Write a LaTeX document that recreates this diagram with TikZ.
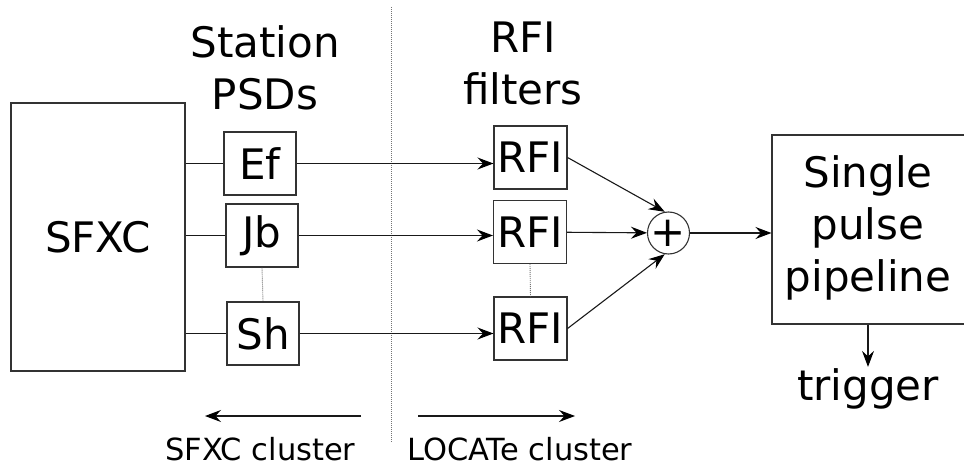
\documentclass[tikz,border=0pt]{standalone}
\usepackage{fontspec}
\setmainfont{DejaVu Sans}
\usetikzlibrary{arrows.meta}
\begin{document}
\begin{tikzpicture}[x=1pt,y=-1pt,
  big/.style={font=\fontsize{42pt}{52pt}\selectfont},
  small/.style={font=\fontsize{30.5pt}{36pt}\selectfont},
  box/.style={big, draw=black!80, line width=1.1pt, inner sep=0pt},
  psd/.style={box, minimum width=72pt, minimum height=63pt},
  rfibox/.style={box, minimum width=73pt, minimum height=63pt},
  title/.style={big, align=center, inner sep=0pt, anchor=base},
  wire/.style={draw=black!90, line width=1.1pt},
  arr/.style={wire, -{Stealth[length=16pt, width=12pt, inset=5.5pt, black]}},
  dots/.style={draw=black!55, line width=0.9pt, dash pattern=on 1pt off 1pt}
]
\useasboundingbox (0,0) rectangle (964,468);

% titles (base = baseline of the last line)
\node[title] (station) at (265,110) {Station\\PSDs};
\node[title] (filters) at (523,105) {RFI\\filters};

% blocks
\node[box, minimum width=174pt, minimum height=268pt] (sfxc) at (98,237) {SFXC};
\node[psd] (ef) at (260,163.5) {Ef};
\node[psd] (jb) at (262,235.5) {Jb};
\node[psd] (sh) at (263,333.5) {Sh};
\node[rfibox] (rfi1) at (530.5,157.5) {RFI};
\node[rfibox] (rfi2) at (530,232) {RFI};
\node[rfibox] (rfi3) at (530.5,328.5) {RFI};
\node[box, circle, minimum size=42pt] (plus) at (668.5,233) {\makebox[0pt]{+}};
\node[box, minimum width=198pt, minimum height=189pt] (pipe) at (871,229.5)
  {\hspace*{-6pt}\raisebox{3pt}{\begin{tabular}{@{}c@{}}Single\\pulse\\pipeline\end{tabular}}};
\node[big, inner sep=1pt, anchor=base] (trig) at (868,400) {trigger};

% separator
\coordinate (septop) at (391,7);
\coordinate (sepbot) at (391,442);
\draw[dots] (septop) -- (sepbot);

% connectors
\draw[wire] (ef.west -| sfxc.east) -- (ef.west);
\draw[wire] (jb.west -| sfxc.east) -- (jb.west);
\draw[wire] (sh.west -| sfxc.east) -- (sh.west);
\draw[dots] (jb.south) -- (sh.north);
\draw[dots] (rfi2.south) -- (rfi3.north);
\draw[arr] (ef.east) -- (ef.east -| rfi1.west);
\draw[arr] (jb.east) -- (jb.east -| rfi2.west);
\draw[arr] (sh.east) -- (sh.east -| rfi3.west);
\draw[arr] (rfi1.east) -- (plus.100);
\draw[arr] (rfi2) -- (plus);
\draw[arr] (rfi3.east) -- (plus.260);
\draw[arr] (plus.east) -- (plus.east -| pipe.west);
\draw[arr] (trig.north |- pipe.south) -- (trig.north);

% cluster arrows
\coordinate (la1) at (361,416);
\coordinate (la2) at (205,416);
\coordinate (ra1) at (418,416);
\coordinate (ra2) at (575,416);
\draw[arr] (la1) -- (la2);
\draw[arr] (ra1) -- (ra2);
\node[small, inner sep=0pt, anchor=base west] (sfxcl) at (165,460) {SFXC cluster};
\node[small, inner sep=0pt, anchor=base west] (locl) at (407,460) {LOCATe cluster};
\end{tikzpicture}
\end{document}
